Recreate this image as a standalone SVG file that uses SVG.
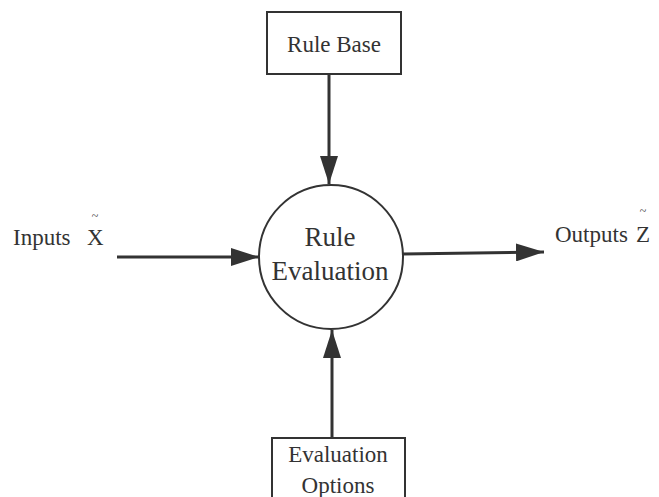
<svg xmlns="http://www.w3.org/2000/svg" width="659" height="497" viewBox="0 0 659 497">
  <style>
    .box { fill: #fff; stroke: #333; stroke-width: 2; }
    .lbl { font-family: "Liberation Serif", "Times New Roman", serif; fill: #333; font-size: 23px; }
    .big { font-size: 27px; }
    .tilde { font-size: 12px; }
    .edge { stroke: #333; stroke-width: 3; fill: none; }
  </style>
  <defs>
    <marker id="arr" viewBox="0 0 28 18" refX="28" refY="9" markerWidth="28" markerHeight="18" markerUnits="userSpaceOnUse" orient="auto">
      <path d="M0,0 L28,9 L0,18 z" fill="#333"/>
    </marker>
  </defs>
  <rect width="659" height="497" fill="#fff"/>

  <g id="connectors">
    <line class="edge" x1="329" y1="74" x2="329" y2="184" marker-end="url(#arr)"/>
    <line class="edge" x1="332" y1="438" x2="332" y2="330" marker-end="url(#arr)"/>
    <line class="edge" x1="117" y1="257" x2="259" y2="257" marker-end="url(#arr)"/>
    <line class="edge" x1="403" y1="254" x2="544" y2="252" marker-end="url(#arr)"/>
  </g>

  <g id="rule-base">
    <rect class="box" x="267" y="12" width="134" height="62"/>
    <text class="lbl" x="334" y="52" text-anchor="middle">Rule Base</text>
  </g>

  <g id="rule-evaluation">
    <circle class="box" cx="331" cy="257" r="72"/>
    <text class="lbl big" x="330" y="246" text-anchor="middle">Rule</text>
    <text class="lbl big" x="330" y="280" text-anchor="middle">Evaluation</text>
  </g>

  <g id="evaluation-options">
    <rect class="box" x="272" y="438" width="133" height="70"/>
    <text class="lbl" x="338" y="462" text-anchor="middle">Evaluation</text>
    <text class="lbl" x="338" y="493" text-anchor="middle">Options</text>
  </g>

  <g id="inputs">
    <text class="lbl" x="13" y="245">Inputs</text>
    <text class="lbl" x="87" y="245">X</text>
    <text class="lbl tilde" x="95" y="220" text-anchor="middle">~</text>
  </g>

  <g id="outputs">
    <text class="lbl" x="555" y="242">Outputs</text>
    <text class="lbl" x="636" y="242">Z</text>
    <text class="lbl tilde" x="643" y="215" text-anchor="middle">~</text>
  </g>
</svg>
